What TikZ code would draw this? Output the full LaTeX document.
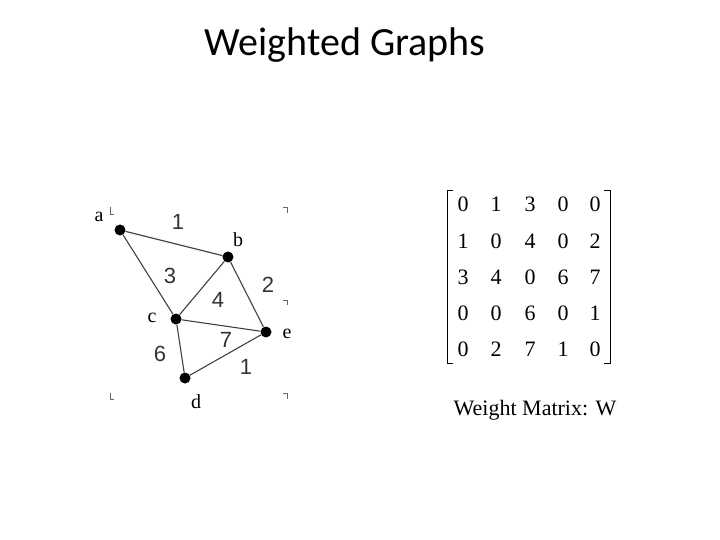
\documentclass[tikz,border=0pt]{standalone}
\usepackage{fontspec}
\setmainfont{Liberation Serif}
\newfontfamily\titlefont{Carlito}
\newfontfamily\numfont{Liberation Sans}
\begin{document}
\begin{tikzpicture}[x=1pt,y=-1pt,
  vtx/.style={circle,fill=black,inner sep=0pt,minimum size=11pt},
  edge/.style={draw=black!75,line width=1.1pt},
  wlab/.style={font=\numfont\fontsize{22}{24}\selectfont,text=black!80},
  vlab/.style={font=\fontsize{20}{22}\selectfont},
  mnum/.style={font=\fontsize{22}{24}\selectfont},
  cornermark/.style={draw=black!60,line width=0.6pt}]
\useasboundingbox (0,0) rectangle (720,540);
\node[font=\titlefont\fontsize{40}{44}\selectfont] (title) at (345,45) {Weighted Graphs};
\node[vtx] (a) at (120,230) {};
\node[vtx] (b) at (228,257) {};
\node[vtx] (c) at (176,319) {};
\node[vtx] (e) at (266,332) {};
\node[vtx] (d) at (185,378) {};
\draw[edge] (a)--(b) (a)--(c) (b)--(c) (b)--(e) (c)--(e) (c)--(d) (d)--(e);
\node[wlab] (w1) at (178,222) {1};
\node[wlab] (w3) at (170,276) {3};
\node[wlab] (w4) at (218,300) {4};
\node[wlab] (w2) at (268,285) {2};
\node[wlab] (w7) at (226,340) {7};
\node[wlab] (w6) at (160,354) {6};
\node[wlab] (w1b) at (246,367) {1};
\node[vlab] (la) at (99,217) {a};
\node[vlab] (lb) at (238,240) {b};
\node[vlab] (lc) at (152,318) {c};
\node[vlab] (le) at (287,334) {e};
\node[vlab] (ld) at (196,402) {d};
\draw[cornermark] (110,207)--(110,214)--(114,214);
\draw[cornermark] (283,207)--(287,207)--(287,213);
\draw[cornermark] (283,300)--(287,300)--(287,305);
\draw[cornermark] (110,393)--(110,399)--(114,399);
\draw[cornermark] (283,393)--(287,393)--(287,399);
\coordinate (tl) at (447,190); \coordinate (bl) at (447,363);
\coordinate (tr) at (610,190); \coordinate (br) at (610,363);
\draw[line width=0.8pt] ([xshift=6]tl)--(tl)--(bl)--([xshift=6]bl);
\draw[line width=0.8pt] ([xshift=-6]tr)--(tr)--(br)--([xshift=-6]br);
\foreach \r/\y in {1/204,2/241,3/277,4/313,5/349}{
  \foreach \c/\x in {1/463,2/496,3/530,4/563,5/595}{
    \coordinate (m\r\c) at (\x,\y);}}
\foreach \r/\vals in {1/{0,1,3,0,0},2/{1,0,4,0,2},3/{3,4,0,6,7},4/{0,0,6,0,1},5/{0,2,7,1,0}}{
  \foreach \v [count=\c] in \vals {\node[mnum] at (m\r\c) {\v};}}
\node[font=\fontsize{22}{24}\selectfont] (wm) at (535,410) {Weight Matrix: W};
\end{tikzpicture}
\end{document}
